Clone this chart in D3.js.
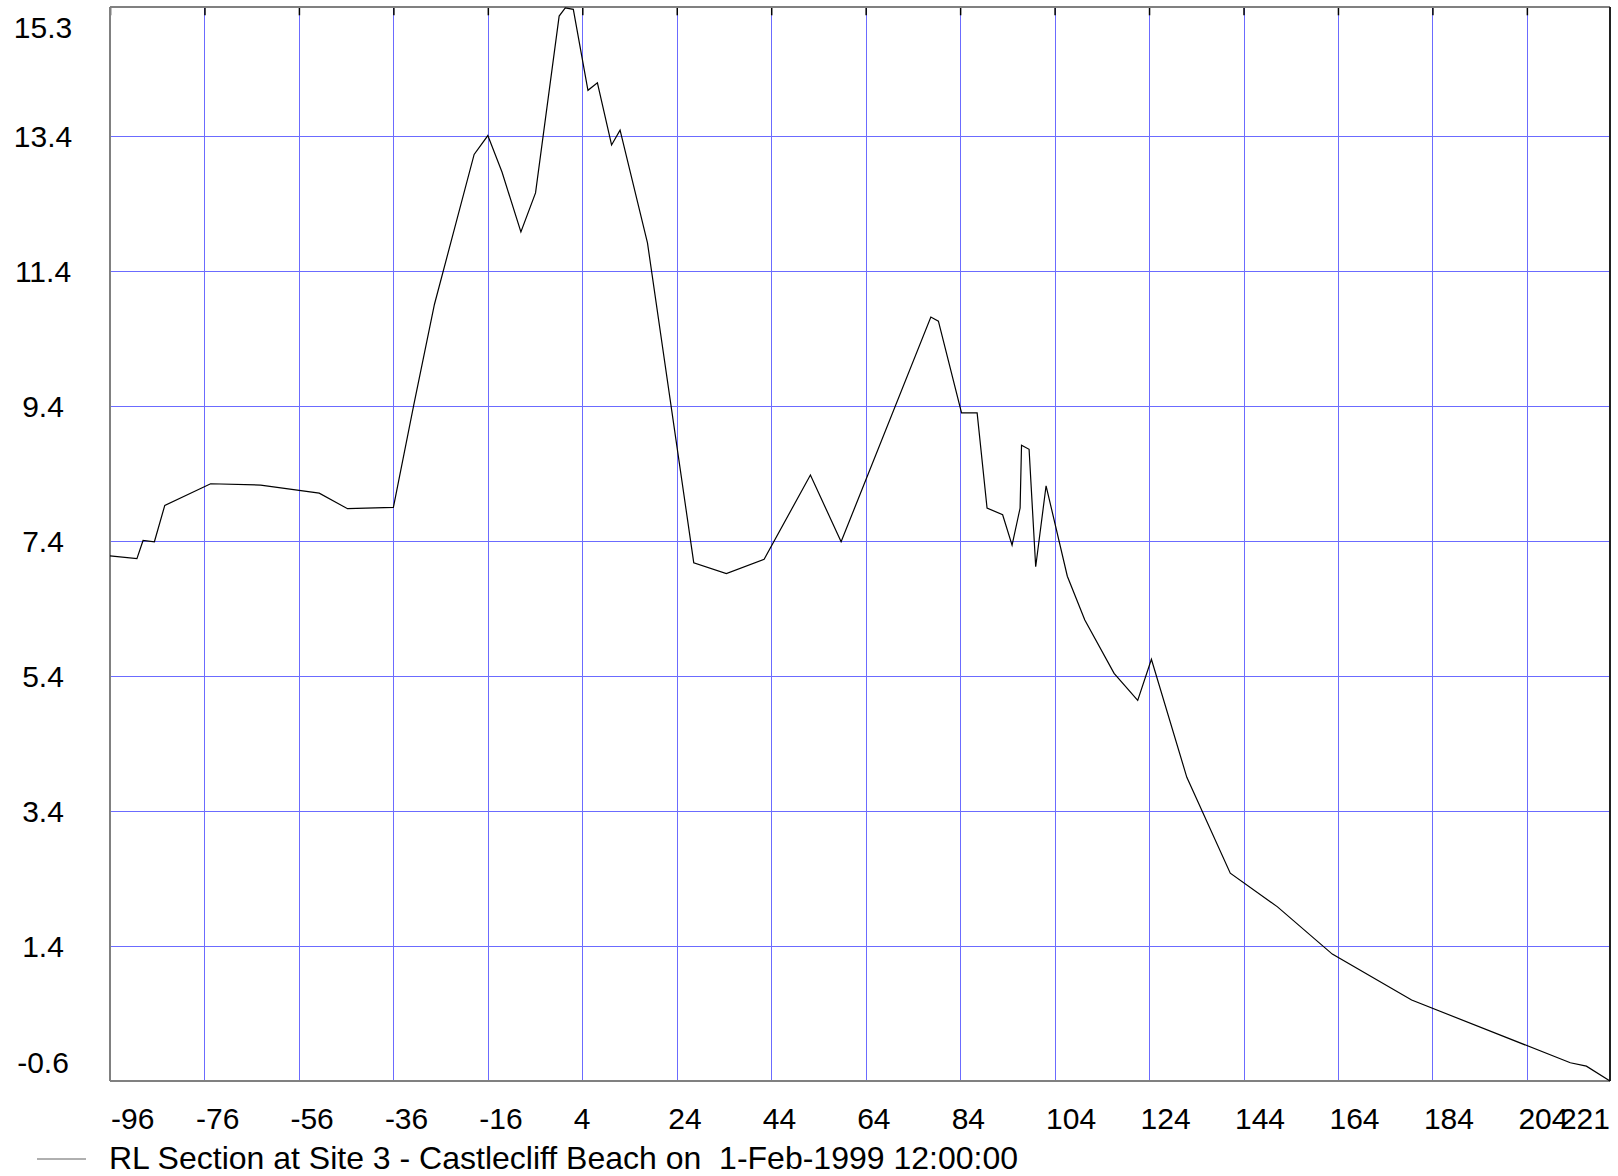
<!DOCTYPE html>
<html>
<head>
<meta charset="utf-8">
<script src="https://cdn.jsdelivr.net/npm/d3@7"></script>
<style>
  html, body { margin: 0; padding: 0; background: #ffffff; }
  svg { display: block; font-family: "Liberation Sans", Arial, sans-serif; }
</style>
</head>
<body>
<svg id="chart" width="1618" height="1176"></svg>
<script>
// Beach profile: chainage (m) against reduced level (m)
const distances = [
  -96.0, -90.3, -89.0, -86.6, -84.4, -74.7, -64.1, -51.7, -45.7, -36.0,
  -31.7, -27.3, -18.9, -16.0, -13.0, -9.0, -5.9, -0.9, 0.4, 2.1,
  5.2, 7.2, 10.2, 12.0, 17.8, 27.6, 34.5, 42.5, 52.3, 58.8,
  77.8, 79.4, 84.3, 87.6, 89.7, 93.0, 95.0, 96.7, 97.0, 98.6,
  100.0, 102.2, 106.7, 110.4, 116.6, 121.6, 124.5, 132.0, 141.2, 151.2,
  162.8, 179.6, 213.2, 216.6, 221.6
];
const levels = [
  7.18, 7.14, 7.41, 7.39, 7.93, 8.25, 8.23, 8.11, 7.88, 7.90,
  9.41, 10.91, 13.13, 13.41, 12.87, 11.98, 12.56, 15.18, 15.30, 15.28,
  14.08, 14.19, 13.27, 13.49, 11.82, 7.08, 6.92, 7.13, 8.38, 7.39,
  10.72, 10.66, 9.30, 9.30, 7.89, 7.79, 7.34, 7.89, 8.82, 8.76,
  7.02, 8.22, 6.88, 6.23, 5.44, 5.04, 5.65, 3.90, 2.48, 1.98,
  1.28, 0.60, -0.33, -0.38, -0.60
];

const xTickValues = [-96, -76, -56, -36, -16, 4, 24, 44, 64, 84, 104, 124, 144, 164, 184, 204];
const xEndValue = 221.6;
const xEndLabel = "221";
const yTickValues = [-0.6, 1.4, 3.4, 5.4, 7.4, 9.4, 11.4, 13.4, 15.3];
const yTickLabels = ["-0.6", "1.4", "3.4", "5.4", "7.4", "9.4", "11.4", "13.4", "15.3"];
const yTop = 15.31;
const seriesName = "RL Section at Site 3 - Castlecliff Beach on  1-Feb-1999 12:00:00";

const svg = d3.select("#chart");
const plotL = 110, plotR = 1610, plotT = 7.3, plotB = 1081;

const x = d3.scaleLinear().domain([xTickValues[0], xEndValue]).range([plotL, plotR]);
const y = d3.scaleLinear().domain([yTickValues[0], yTop]).range([plotB, plotT]);

// grid
const gridColor = "#6b6bff";
svg.append("g")
  .attr("transform", `translate(0,${plotB})`)
  .call(d3.axisBottom(x).tickValues(xTickValues.slice(1)).tickSize(-(plotB - plotT)).tickFormat(""))
  .call(g => g.select(".domain").remove())
  .call(g => g.selectAll("line").attr("stroke", gridColor).attr("shape-rendering", "crispEdges"));

svg.append("g")
  .attr("transform", `translate(${plotL},0)`)
  .call(d3.axisLeft(y).tickValues(yTickValues.slice(1, -1)).tickSize(-(plotR - plotL)).tickFormat(""))
  .call(g => g.select(".domain").remove())
  .call(g => g.selectAll("line").attr("stroke", gridColor).attr("shape-rendering", "crispEdges"));

// short ticks hanging from the top edge
svg.append("g")
  .attr("transform", `translate(0,${plotT})`)
  .call(d3.axisTop(x).tickValues(xTickValues).tickSize(-8).tickFormat(""))
  .call(g => g.select(".domain").remove())
  .call(g => g.selectAll("line").attr("stroke", "#000").attr("stroke-width", 1.5));

// frame
const frame = svg.append("g").attr("fill", "none").attr("shape-rendering", "crispEdges");
frame.append("line").attr("x1", plotL).attr("x2", plotR).attr("y1", plotT).attr("y2", plotT).attr("stroke", "#808080").attr("stroke-width", 2);
frame.append("line").attr("x1", plotL).attr("x2", plotR).attr("y1", plotB).attr("y2", plotB).attr("stroke", "#808080").attr("stroke-width", 2);
frame.append("line").attr("x1", plotL).attr("x2", plotL).attr("y1", plotT).attr("y2", plotB).attr("stroke", "#808080").attr("stroke-width", 2);
frame.append("line").attr("x1", plotR).attr("x2", plotR).attr("y1", plotT).attr("y2", plotB).attr("stroke", "#202020").attr("stroke-width", 2);

// profile line
const points = distances.map((d, i) => [d, levels[i]]);
svg.append("path")
  .datum(points)
  .attr("fill", "none")
  .attr("stroke", "#000")
  .attr("stroke-width", 1.2)
  .attr("d", d3.line().x(d => x(d[0])).y(d => y(d[1])));

// y labels
const fs = 30;
svg.append("g").selectAll("text")
  .data(yTickValues)
  .join("text")
  .attr("x", 43)
  .attr("y", (d) => Math.min(Math.max(y(d), plotT + 20), plotB - 19) + 0.36 * fs)
  .attr("text-anchor", "middle")
  .attr("font-size", fs)
  .attr("fill", "#000")
  .text((d, i) => yTickLabels[i]);

// x labels
svg.append("g").selectAll("text")
  .data(xTickValues)
  .join("text")
  .attr("x", d => Math.max(x(d) - 8.5, plotL + 1))
  .attr("y", 1129)
  .attr("font-size", fs)
  .attr("fill", "#000")
  .text(d => String(d));
svg.append("text")
  .attr("x", x(xEndValue))
  .attr("y", 1129)
  .attr("text-anchor", "end")
  .attr("font-size", fs)
  .attr("fill", "#000")
  .text(xEndLabel);

// legend
svg.append("line")
  .attr("x1", 37).attr("x2", 86).attr("y1", 1159).attr("y2", 1159)
  .attr("stroke", "#606060").attr("stroke-width", 1);
svg.append("text")
  .attr("x", 109)
  .attr("y", 1169)
  .attr("font-size", 32)
  .attr("fill", "#000")
  .attr("xml:space", "preserve")
  .style("white-space", "pre")
  .text(seriesName);
</script>
</body>
</html>
